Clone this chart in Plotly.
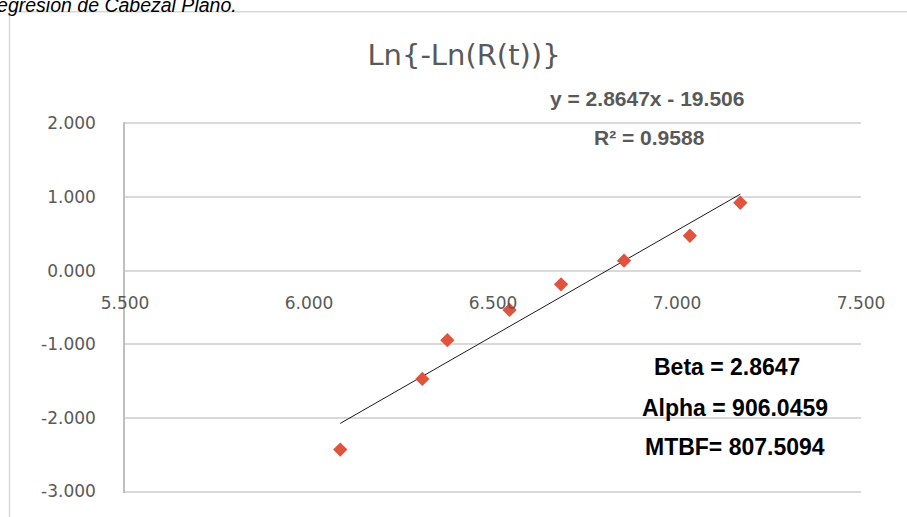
import plotly.graph_objects as go

# Data: x = ln(t), y = ln(-ln(R(t)))
x_vals = [6.085, 6.308, 6.376, 6.545, 6.685, 6.856, 7.035, 7.172]
y_vals = [-2.43, -1.47, -0.944, -0.533, -0.185, 0.136, 0.475, 0.923]

slope = 2.8647
intercept = -19.506
r2 = 0.9588
beta = "2.8647"
alpha = "906.0459"
mtbf = "807.5094"

x_tick_vals = [5.5, 6.0, 6.5, 7.0, 7.5]
x_tick_labels = ["5.500", "6.000", "6.500", "7.000", "7.500"]
y_tick_vals = [-3, -2, -1, 0, 1, 2]
y_tick_labels = ["-3.000", "-2.000", "-1.000", "0.000", "1.000", "2.000"]

title_text = "Ln{-Ln(R(t))}"
caption_text = "Regresión de Cabezal Plano."

W, H = 907, 517
y_lo, y_hi = -3.02, 2.02
L, R, T, B = 125, 46, 121.5, 23.5
pw, ph = W - L - R, H - T - B

def px(xp):
    return (xp - L) / pw

def py(yp):
    return (H - B - yp) / ph

trend_x = [min(x_vals), max(x_vals)]
trend_y = [slope * v + intercept for v in trend_x]

fig = go.Figure()
fig.add_trace(go.Scatter(x=trend_x, y=trend_y, mode="lines",
                         line=dict(color="#1a1a1a", width=1), showlegend=False,
                         hoverinfo="skip"))
fig.add_trace(go.Scatter(x=x_vals, y=y_vals, mode="markers",
                         marker=dict(symbol="diamond", size=11, color="#E0533D"),
                         showlegend=False))

tick_font = dict(family="DejaVu Sans", size=17, color="#595959")

fig.update_layout(
    width=W, height=H,
    margin=dict(l=L, r=R, t=T, b=B),
    paper_bgcolor="white", plot_bgcolor="white",
    title=dict(text=title_text, x=464 / W, xanchor="center",
               y=(H - 55) / H, yanchor="middle",
               font=dict(family="DejaVu Sans", size=29, color="#595959")),
    xaxis=dict(range=[5.5, 7.5], tickvals=x_tick_vals, ticktext=x_tick_labels,
               showgrid=False, zeroline=False, showline=False,
               anchor="free", position=(0 - y_lo) / (y_hi - y_lo),
               ticks="outside", ticklen=17, tickcolor="rgba(0,0,0,0)",
               tickfont=tick_font),
    yaxis=dict(range=[y_lo, y_hi], tickvals=y_tick_vals, ticktext=y_tick_labels,
               showgrid=True, gridcolor="#d9d9d9", gridwidth=1.5,
               zeroline=False, showline=True, linecolor="#bfbfbf", linewidth=1.5,
               ticks="outside", ticklen=24, tickcolor="rgba(0,0,0,0)",
               tickfont=tick_font),
    shapes=[dict(type="rect", xref="paper", yref="paper",
                 x0=px(9.5), x1=px(W + 20), y0=py(H + 20), y1=py(11),
                 line=dict(color="#d9d9d9", width=1.5), fillcolor="rgba(0,0,0,0)",
                 layer="below")],
)

eq_font = dict(family="Liberation Sans", size=21, color="#595959")
box_font = dict(family="Liberation Sans", size=23, color="#000000")
anns = [
    dict(text="<b>y = %.4fx - %.3f</b>" % (slope, -intercept), x=px(647), y=py(98), font=eq_font),
    dict(text="<b>R² = %.4f</b>" % r2, x=px(649), y=py(137), font=eq_font),
    dict(text="<b>Beta = %s</b>" % beta, x=px(727), y=py(367), font=box_font),
    dict(text="<b>Alpha = %s</b>" % alpha, x=px(735), y=py(408), font=box_font),
    dict(text="<b>MTBF= %s</b>" % mtbf, x=px(735), y=py(447), font=box_font),
]
for a in anns:
    fig.add_annotation(xref="paper", yref="paper", showarrow=False,
                       xanchor="center", yanchor="middle", **a)

fig.add_annotation(xref="paper", yref="paper", showarrow=False,
                   text="<i>%s</i>" % caption_text, x=px(239), y=py(4.5),
                   xanchor="right", yanchor="middle",
                   font=dict(family="Liberation Sans", size=19.5, color="#000000"))

fig.write_html("out.html")
